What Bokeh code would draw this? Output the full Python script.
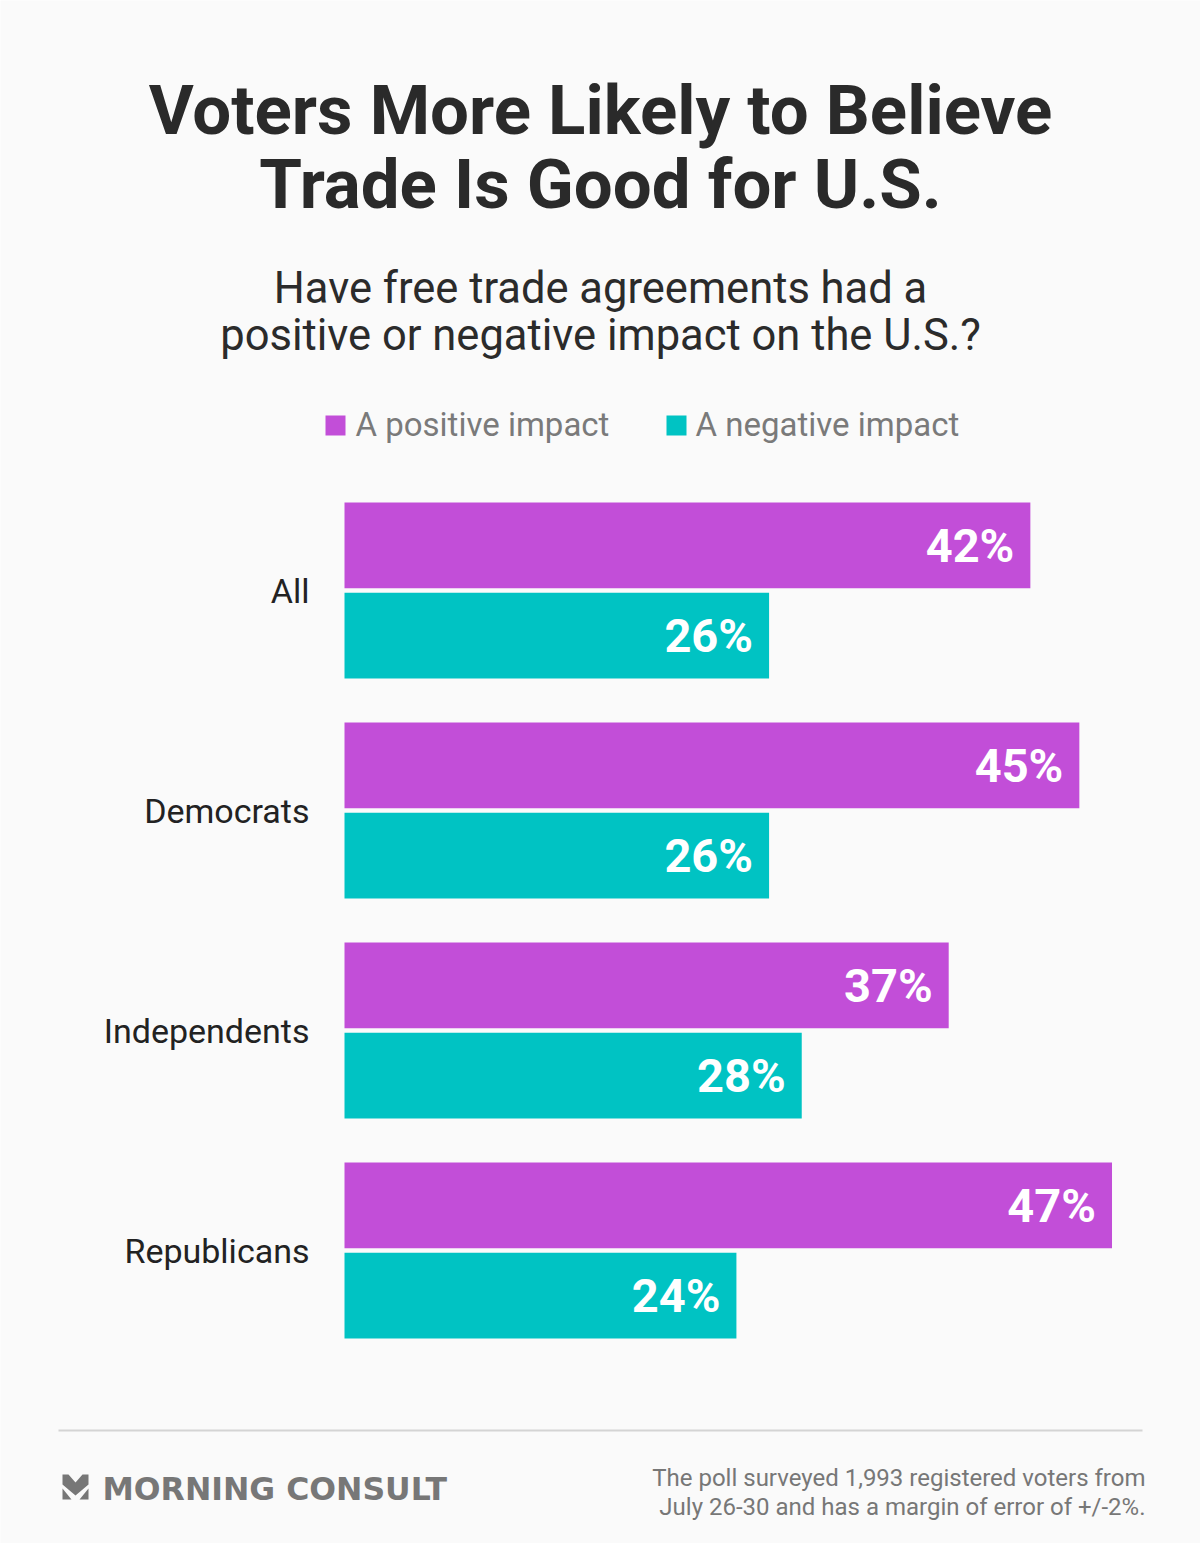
from bokeh.plotting import figure
from bokeh.models import Range1d, ColumnDataSource
from bokeh.embed import file_html
from bokeh.resources import INLINE
from bokeh.core.properties import value

# ---------------- data ----------------
title_lines = ["Voters More Likely to Believe", "Trade Is Good for U.S."]
subtitle_lines = ["Have free trade agreements had a",
                  "positive or negative impact on the U.S.?"]
groups = ["All", "Democrats", "Independents", "Republicans"]
positive = [42, 45, 37, 47]
negative = [26, 26, 28, 24]
series_names = ["A positive impact", "A negative impact"]
series_colors = ["#C24ED8", "#00C3C3"]
brand = "MORNING CONSULT"
footnote_lines = ["The poll surveyed 1,993 registered voters from",
                  "July 26-30 and has a margin of error of +/-2%."]

# ---------------- layout ----------------
W, H = 1200, 1543
BG = "#FAFAFA"
PX_PER_PCT = 16.33
ZERO_X = 344          # canvas x of 0 %
ROW0_Y = 590          # canvas y of first group centre
ROW_STEP = 220
BAR_OFF = 0.205
BAR_H = 0.39

p = figure(width=W, height=H, output_backend="svg", toolbar_location=None,
           x_range=Range1d(0, W), y_range=Range1d(H, 0),
           x_axis_location=None, y_axis_location=None,
           min_border=0, background_fill_color=BG, border_fill_color=BG,
           outline_line_color=None)
p.grid.visible = False
p.extra_x_ranges = {"pct": Range1d(-ZERO_X / PX_PER_PCT, (W - ZERO_X) / PX_PER_PCT)}
p.extra_y_ranges = {"rows": Range1d((H - ROW0_Y) / ROW_STEP, -ROW0_Y / ROW_STEP)}

idx = list(range(len(groups)))
src = ColumnDataSource(dict(
    group=groups,
    row=idx,
    pos_y=[i - BAR_OFF for i in idx],
    neg_y=[i + BAR_OFF for i in idx],
    positive=positive,
    negative=negative,
    pos_lbl=[f"{v}%" for v in positive],
    neg_lbl=[f"{v}%" for v in negative],
))

r_pos = p.hbar(y="pos_y", left=0, right="positive", height=BAR_H, source=src,
               fill_color=series_colors[0], line_color=None,
               x_range_name="pct", y_range_name="rows")
r_neg = p.hbar(y="neg_y", left=0, right="negative", height=BAR_H, source=src,
               fill_color=series_colors[1], line_color=None,
               x_range_name="pct", y_range_name="rows")

# value labels inside bars
for ycol, xcol, lcol in (("pos_y", "positive", "pos_lbl"), ("neg_y", "negative", "neg_lbl")):
    p.text(x=xcol, y=ycol, text=lcol, source=src, x_offset=-16,
           text_align="right", text_baseline="middle",
           text_font=value("Roboto"), text_font_style="bold",
           text_font_size="47px", text_color="white",
           x_range_name="pct", y_range_name="rows")

# category labels
p.text(x=0, y="row", text="group", source=src, x_offset=-35,
       text_align="right", text_baseline="middle",
       text_font=value("Roboto"), text_font_size="34px", text_color="#222222",
       x_range_name="pct", y_range_name="rows")

# title
p.text(x=[600, 600], y=[110, 184], text=title_lines,
       text_align="center", text_baseline="middle",
       text_font=value("Roboto"), text_font_style="bold",
       text_font_size="69px", text_color="#2a2a2a")

# subtitle
p.text(x=[600, 600], y=[288, 335], text=subtitle_lines,
       text_align="center", text_baseline="middle",
       text_font=value("Roboto"), text_font_size="43.5px", text_color="#2b2b2b")

# legend (manual, horizontal)
leg_sq_x = [335, 676]
leg_txt_x = [355, 695]
p.rect(x=leg_sq_x, y=[425, 425], width=20, height=20,
       fill_color=series_colors, line_color=None)
p.text(x=leg_txt_x, y=[424, 424], text=series_names,
       text_align="left", text_baseline="middle",
       text_font=value("Roboto"), text_font_size="33px", text_color="#7a7a7a")

# divider
p.line(x=[58, 1142], y=[1430, 1430], line_color="#d4d4d4", line_width=2)

# logo mark
logo_xs = [[62, 68, 75, 82, 88, 88, 75, 62],
           [62, 71, 62],
           [88, 79, 88]]
logo_ys = [[1474, 1474, 1482, 1474, 1474, 1484, 1495, 1484],
           [1488, 1499, 1499],
           [1488, 1499, 1499]]
p.patches(xs=logo_xs, ys=logo_ys, fill_color="#777777", line_color=None)

p.text(x=[102], y=[1488.5], text=[brand], text_align="left", text_baseline="middle",
       text_font=value("DejaVu Sans"), text_font_style="bold",
       text_font_size="31.5px", text_color="#777777")

# footnote
p.text(x=[1145, 1145], y=[1477, 1506], text=footnote_lines,
       text_align="right", text_baseline="middle",
       text_font=value("Roboto"), text_font_size="24px", text_color="#777777")

html = file_html(p, INLINE)
html = html.replace("<body>", '<body style="background:#FAFAFA">', 1)
open("out.html", "w").write(html)
